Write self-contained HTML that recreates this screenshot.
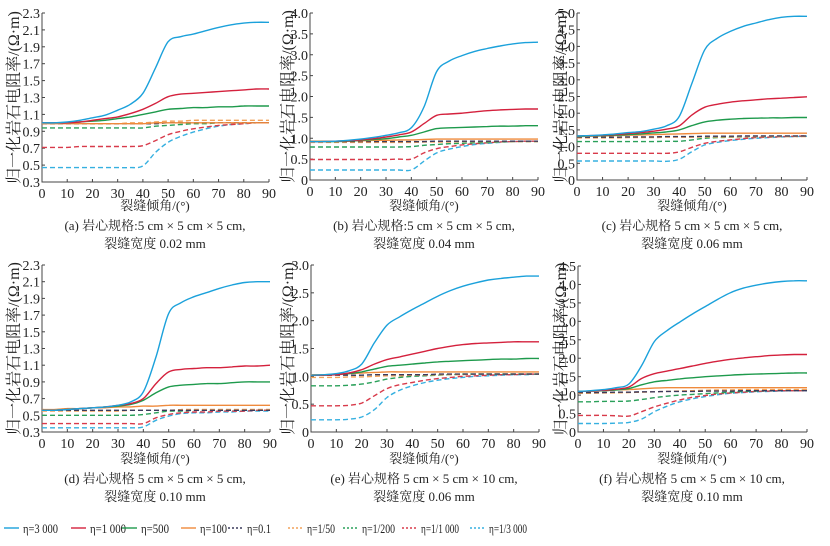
<!DOCTYPE html>
<html><head><meta charset="utf-8"><style>
body{margin:0;background:#fff;}
svg{display:block;font-family:"Liberation Serif","Noto Serif CJK SC",serif;}
</style></head><body>
<svg id="chart" width="830" height="546" viewBox="0 0 830 546"></svg>
<script>
const xAngles=[0,5,10,15,20,25,30,35,40,45,50,55,60,65,70,75,80,85,90];
const seriesNames=["η=3 000","η=1 000","η=500","η=100","η=0.1","η=1/50","η=1/200","η=1/1 000","η=1/3 000"];
const seriesColors=["#1ba1db","#d4213d","#1e9a4c","#ef8a3c","#3a3a5c","#f2a25a","#2aa05a","#d83a4a","#36b0e0"];
const seriesDashed=[false,false,false,false,true,true,true,true,true];
const xTicks=[0,10,20,30,40,50,60,70,80,90];
const yTicksA=[0.3,0.5,0.7,0.9,1.1,1.3,1.5,1.7,1.9,2.1,2.3];
const yTicksB=[0,0.5,1.0,1.5,2.0,2.5,3.0,3.5,4.0];
const yTicksC=[0,0.5,1.0,1.5,2.0,2.5,3.0,3.5,4.0,4.5,5.0];
const yTicksD=[0.3,0.5,0.7,0.9,1.1,1.3,1.5,1.7,1.9,2.1,2.3];
const yTicksE=[0,0.5,1.0,1.5,2.0,2.5,3.0];
const yTicksF=[0,0.5,1.0,1.5,2.0,2.5,3.0,3.5,4.0,4.5];
const dataA=[
[1.0,1.0,1.01,1.03,1.06,1.09,1.15,1.22,1.35,1.65,1.96,2.02,2.05,2.09,2.13,2.16,2.18,2.19,2.19],
[1.0,1.0,1.0,1.01,1.03,1.05,1.07,1.11,1.16,1.23,1.31,1.34,1.35,1.36,1.37,1.38,1.39,1.40,1.40],
[1.0,1.0,1.0,1.01,1.02,1.03,1.05,1.07,1.10,1.13,1.16,1.17,1.18,1.18,1.19,1.19,1.20,1.20,1.20],
[0.99,0.99,0.99,0.99,0.99,0.99,0.99,0.99,0.99,1.0,1.0,1.0,1.0,1.0,1.0,1.0,1.0,1.0,1.0],
[0.99,0.99,0.99,0.99,0.99,0.99,0.99,0.99,0.99,0.99,1.0,1.0,1.0,1.0,1.0,1.0,1.0,1.0,1.0],
[0.99,0.99,0.99,0.99,0.99,0.99,0.99,1.0,1.0,1.01,1.02,1.02,1.03,1.03,1.03,1.03,1.03,1.03,1.03],
[0.94,0.94,0.94,0.94,0.94,0.94,0.94,0.94,0.94,0.96,0.97,0.98,0.99,0.99,1.0,1.0,1.0,1.0,1.0],
[0.71,0.71,0.71,0.72,0.72,0.72,0.72,0.72,0.73,0.79,0.86,0.90,0.93,0.95,0.97,0.98,0.99,1.0,1.0],
[0.47,0.47,0.47,0.47,0.47,0.47,0.47,0.47,0.49,0.65,0.77,0.84,0.89,0.93,0.96,0.98,0.99,1.0,1.0]];
const dataB=[
[0.92,0.92,0.93,0.95,0.98,1.02,1.07,1.13,1.25,1.75,2.6,2.85,2.98,3.08,3.15,3.21,3.26,3.29,3.30],
[0.92,0.92,0.93,0.94,0.96,0.99,1.03,1.08,1.15,1.35,1.55,1.58,1.60,1.63,1.66,1.68,1.69,1.70,1.70],
[0.92,0.92,0.92,0.93,0.95,0.97,0.99,1.03,1.07,1.15,1.23,1.25,1.26,1.27,1.28,1.29,1.29,1.30,1.30],
[0.93,0.93,0.93,0.94,0.94,0.95,0.95,0.96,0.96,0.97,0.98,0.98,0.98,0.98,0.98,0.98,0.98,0.98,0.98],
[0.92,0.92,0.92,0.92,0.92,0.92,0.92,0.92,0.92,0.92,0.93,0.93,0.93,0.93,0.93,0.93,0.93,0.93,0.93],
[0.90,0.90,0.90,0.90,0.90,0.90,0.90,0.90,0.90,0.91,0.91,0.91,0.92,0.92,0.92,0.92,0.92,0.92,0.92],
[0.79,0.79,0.79,0.79,0.79,0.79,0.79,0.79,0.80,0.83,0.85,0.87,0.88,0.89,0.90,0.91,0.92,0.92,0.92],
[0.49,0.49,0.49,0.49,0.49,0.49,0.49,0.50,0.50,0.65,0.75,0.80,0.84,0.87,0.89,0.91,0.92,0.93,0.93],
[0.24,0.24,0.24,0.24,0.24,0.24,0.24,0.24,0.24,0.45,0.65,0.74,0.80,0.85,0.88,0.90,0.92,0.93,0.93]];
const dataC=[
[1.32,1.33,1.35,1.38,1.42,1.45,1.52,1.62,1.9,2.9,3.9,4.25,4.45,4.6,4.7,4.8,4.87,4.9,4.9],
[1.32,1.33,1.34,1.36,1.39,1.42,1.46,1.52,1.62,1.95,2.18,2.27,2.33,2.37,2.40,2.43,2.45,2.47,2.49],
[1.31,1.32,1.33,1.34,1.36,1.38,1.41,1.44,1.5,1.63,1.74,1.79,1.82,1.84,1.85,1.86,1.86,1.87,1.87],
[1.30,1.31,1.32,1.33,1.34,1.35,1.36,1.37,1.38,1.39,1.40,1.40,1.40,1.40,1.40,1.40,1.40,1.40,1.40],
[1.28,1.28,1.28,1.28,1.29,1.29,1.29,1.30,1.30,1.30,1.31,1.31,1.31,1.32,1.32,1.32,1.32,1.32,1.32],
[1.26,1.26,1.26,1.26,1.27,1.27,1.27,1.28,1.28,1.28,1.29,1.29,1.29,1.30,1.30,1.30,1.30,1.30,1.30],
[1.15,1.15,1.15,1.15,1.15,1.15,1.15,1.16,1.16,1.20,1.25,1.27,1.28,1.29,1.30,1.30,1.31,1.31,1.31],
[0.80,0.80,0.80,0.80,0.80,0.80,0.80,0.80,0.84,0.98,1.10,1.16,1.20,1.24,1.27,1.28,1.30,1.31,1.32],
[0.57,0.57,0.57,0.57,0.57,0.57,0.57,0.56,0.62,0.85,1.05,1.13,1.18,1.22,1.25,1.27,1.29,1.30,1.31]];
const dataD=[
[0.56,0.56,0.57,0.58,0.59,0.60,0.62,0.66,0.78,1.2,1.72,1.85,1.92,1.97,2.02,2.06,2.09,2.10,2.10],
[0.56,0.56,0.57,0.58,0.59,0.60,0.62,0.64,0.70,0.88,1.02,1.05,1.06,1.07,1.07,1.08,1.09,1.09,1.10],
[0.56,0.56,0.57,0.58,0.59,0.60,0.61,0.63,0.68,0.77,0.84,0.86,0.87,0.88,0.88,0.89,0.90,0.90,0.90],
[0.57,0.57,0.58,0.58,0.59,0.59,0.60,0.60,0.61,0.61,0.62,0.62,0.62,0.62,0.62,0.62,0.62,0.62,0.62],
[0.56,0.56,0.56,0.56,0.56,0.56,0.56,0.56,0.56,0.56,0.56,0.56,0.56,0.56,0.56,0.56,0.56,0.56,0.56],
[0.55,0.55,0.55,0.55,0.55,0.55,0.55,0.56,0.56,0.56,0.56,0.57,0.57,0.57,0.57,0.57,0.57,0.57,0.57],
[0.50,0.50,0.50,0.50,0.50,0.50,0.50,0.50,0.51,0.53,0.55,0.55,0.56,0.56,0.56,0.56,0.56,0.56,0.56],
[0.40,0.40,0.40,0.40,0.40,0.40,0.40,0.40,0.40,0.47,0.51,0.53,0.54,0.54,0.55,0.55,0.55,0.56,0.56],
[0.35,0.35,0.35,0.35,0.35,0.35,0.35,0.35,0.36,0.44,0.49,0.52,0.53,0.53,0.54,0.54,0.55,0.55,0.55]];
const dataE=[
[1.02,1.03,1.05,1.10,1.22,1.60,1.92,2.07,2.20,2.32,2.44,2.54,2.62,2.68,2.73,2.76,2.78,2.80,2.80],
[1.02,1.02,1.03,1.06,1.12,1.22,1.30,1.35,1.40,1.45,1.50,1.54,1.57,1.59,1.60,1.61,1.62,1.62,1.62],
[1.02,1.02,1.03,1.05,1.08,1.13,1.18,1.20,1.22,1.24,1.26,1.27,1.28,1.29,1.30,1.31,1.31,1.32,1.32],
[1.03,1.03,1.04,1.05,1.06,1.07,1.08,1.08,1.08,1.08,1.08,1.08,1.08,1.08,1.08,1.08,1.08,1.08,1.08],
[1.02,1.02,1.02,1.02,1.02,1.03,1.03,1.03,1.03,1.03,1.04,1.04,1.04,1.04,1.04,1.04,1.04,1.04,1.04],
[0.98,0.98,0.98,0.99,0.99,1.0,1.01,1.01,1.02,1.02,1.03,1.03,1.03,1.04,1.04,1.04,1.04,1.04,1.04],
[0.83,0.83,0.83,0.84,0.86,0.90,0.95,0.98,1.0,1.01,1.02,1.03,1.04,1.04,1.04,1.04,1.04,1.04,1.04],
[0.47,0.47,0.47,0.48,0.52,0.65,0.78,0.85,0.89,0.93,0.96,0.98,1.0,1.01,1.02,1.03,1.03,1.04,1.04],
[0.22,0.22,0.22,0.23,0.27,0.40,0.62,0.75,0.83,0.89,0.93,0.96,0.98,1.0,1.01,1.02,1.03,1.03,1.04]];
const dataF=[
[1.1,1.12,1.15,1.2,1.3,1.8,2.45,2.75,2.98,3.2,3.4,3.6,3.78,3.9,3.98,4.04,4.08,4.1,4.1],
[1.1,1.11,1.13,1.16,1.22,1.45,1.58,1.65,1.72,1.79,1.86,1.92,1.97,2.01,2.04,2.07,2.09,2.1,2.1],
[1.1,1.11,1.12,1.14,1.18,1.28,1.36,1.40,1.44,1.47,1.50,1.52,1.54,1.56,1.57,1.58,1.59,1.6,1.6],
[1.10,1.11,1.12,1.14,1.15,1.17,1.19,1.20,1.20,1.20,1.20,1.20,1.20,1.20,1.20,1.20,1.20,1.20,1.20],
[1.07,1.07,1.07,1.08,1.08,1.09,1.09,1.10,1.10,1.10,1.11,1.11,1.11,1.12,1.12,1.12,1.12,1.12,1.12],
[1.05,1.05,1.06,1.06,1.07,1.08,1.09,1.10,1.11,1.12,1.13,1.14,1.14,1.15,1.15,1.15,1.15,1.15,1.15],
[0.82,0.82,0.83,0.83,0.84,0.88,0.93,0.97,1.0,1.02,1.04,1.06,1.08,1.1,1.11,1.12,1.13,1.13,1.13],
[0.45,0.45,0.45,0.44,0.43,0.55,0.68,0.78,0.87,0.94,0.99,1.03,1.06,1.08,1.1,1.11,1.12,1.12,1.12],
[0.23,0.23,0.23,0.24,0.26,0.35,0.55,0.70,0.82,0.90,0.96,1.01,1.05,1.07,1.09,1.10,1.11,1.12,1.12]];

const NS="http://www.w3.org/2000/svg";
const svg=document.getElementById('chart');
function mk(tag,attrs,parent){const e=document.createElementNS(NS,tag);for(const k in attrs)e.setAttribute(k,attrs[k]);(parent||svg).appendChild(e);return e;}

const panels=[
 {id:'a',x0:42,x1:269,yt:13,yb:182,ymin:0.3,ymax:2.3,ticks:yTicksA,data:dataA,ylx:13,cx:155,ty:210,cap1:"(a) 岩心规格:5 cm × 5 cm × 5 cm,",cap2:"裂缝宽度 0.02 mm"},
 {id:'b',x0:310,x1:538,yt:13,yb:180,ymin:0,ymax:4,ticks:yTicksB,data:dataB,ylx:287,cx:424,ty:210,cap1:"(b) 岩心规格:5 cm × 5 cm × 5 cm,",cap2:"裂缝宽度 0.04 mm"},
 {id:'c',x0:577,x1:807,yt:13,yb:180,ymin:0,ymax:5,ticks:yTicksC,data:dataC,ylx:560,cx:692,ty:210,cap1:"(c) 岩心规格 5 cm × 5 cm × 5 cm,",cap2:"裂缝宽度 0.06 mm"},
 {id:'d',x0:42,x1:270,yt:265,yb:432,ymin:0.3,ymax:2.3,ticks:yTicksD,data:dataD,ylx:13,cx:155,ty:463,cap1:"(d) 岩心规格 5 cm × 5 cm × 5 cm,",cap2:"裂缝宽度 0.10 mm"},
 {id:'e',x0:311,x1:539,yt:265,yb:432,ymin:0,ymax:3,ticks:yTicksE,data:dataE,ylx:287,cx:424,ty:463,cap1:"(e) 岩心规格 5 cm × 5 cm × 10 cm,",cap2:"裂缝宽度 0.06 mm"},
 {id:'f',x0:578,x1:807,yt:266,yb:432,ymin:0,ymax:4.5,ticks:yTicksF,data:dataF,ylx:560,cx:692,ty:463,cap1:"(f) 岩心规格 5 cm × 5 cm × 10 cm,",cap2:"裂缝宽度 0.10 mm"}
];

function smoothPath(pts){
  let d="M"+pts[0][0].toFixed(1)+","+pts[0][1].toFixed(1);
  for(let i=0;i<pts.length-1;i++){
    const p0=pts[Math.max(0,i-1)],p1=pts[i],p2=pts[i+1],p3=pts[Math.min(pts.length-1,i+2)];
    const c1=[p1[0]+(p2[0]-p0[0])/6,p1[1]+(p2[1]-p0[1])/6];
    const c2=[p2[0]-(p3[0]-p1[0])/6,p2[1]-(p3[1]-p1[1])/6];
    d+=" C"+c1[0].toFixed(1)+","+c1[1].toFixed(1)+" "+c2[0].toFixed(1)+","+c2[1].toFixed(1)+" "+p2[0].toFixed(1)+","+p2[1].toFixed(1);
  }
  return d;
}

panels.forEach(p=>{
  const g=mk('g',{});
  
  
  const xs=v=>p.x0+(v-0)/90*(p.x1-p.x0);
  const ys=v=>p.yb-(v-p.ymin)/(p.ymax-p.ymin)*(p.yb-p.yt);
  const yc=(p.yt+p.yb)/2;
  const yl=mk('text',{x:0,y:0,transform:`translate(${p.ylx+6},${yc}) rotate(-90)`,'text-anchor':'middle','font-size':16,fill:'#222'},g);
  yl.textContent="归一化岩石电阻率/(Ω·m)";
  
  
  const ax=mk('path',{d:`M${p.x0},${p.yt} V${p.yb} H${p.x1}`,stroke:'#444',fill:'none','stroke-width':1},g);
  
  
  xTicks.forEach(t=>{
    const X=xs(t);
    mk('line',{x1:X,x2:X,y1:p.yb,y2:p.yb-3,stroke:'#444'},g);
    const tx=mk('text',{x:X,y:p.yb+16,'text-anchor':'middle','font-size':14,fill:'#222'},g);
    tx.textContent=t;
    
    
  });
  p.ticks.forEach(t=>{
    const Y=ys(t);
    mk('line',{x1:p.x0,x2:p.x0+3,y1:Y,y2:Y,stroke:'#444'},g);
    const tx=mk('rect',{x:0,y:0,width:0,height:0},g);
    const lab=mk('text',{x:p.x0-2,y:Y+5,'text-anchor':'end','font-size':14,fill:'#222'},g);
    lab.textContent=(t===0?'0':t.toFixed(1));
    
    
  });
  const xl=mk('text',{x:p.cx,y:p.ty,'text-anchor':'middle','font-size':13,fill:'#222'},g);
  xl.textContent="裂缝倾角/(°)";
  
  
  const c1=mk('text',{x:p.cx,y:p.ty+20,'text-anchor':'middle','font-size':13,fill:'#222'},g);
  c1.textContent=p.cap1;
  
  
  const c2=mk('text',{x:p.cx,y:p.ty+38,'text-anchor':'middle','font-size':13,fill:'#222'},g);
  c2.textContent=p.cap2;
  
  
  for(let s=p.data.length-1;s>=0;s--){
    const pts=xAngles.map((x,i)=>[xs(x),ys(p.data[s][i])]);
    const path=mk('path',{d:smoothPath(pts),fill:'none',stroke:seriesColors[s],'stroke-width':1.4},g);
    if(seriesDashed[s])path.setAttribute('stroke-dasharray','5,3');
    
    
  }
});

const legX=[4,71,122,181,228,288,343,402,470];
const legW=[35,36,28,27,24,28,33,38,38];
const lg=mk('g',{});


seriesNames.forEach((n,i)=>{
  const e=mk('g',{},lg);
  
  
  const l=mk('line',{x1:legX[i],x2:legX[i]+15,y1:528,y2:528,stroke:seriesColors[i],'stroke-width':1.4},e);
  if(seriesDashed[i])l.setAttribute('stroke-dasharray','2,2');
  const t=mk('text',{x:legX[i]+19,y:533,'font-size':13,fill:'#222',textLength:legW[i],lengthAdjust:'spacingAndGlyphs'},e);
  t.textContent=n;
});
</script>
</body></html>
